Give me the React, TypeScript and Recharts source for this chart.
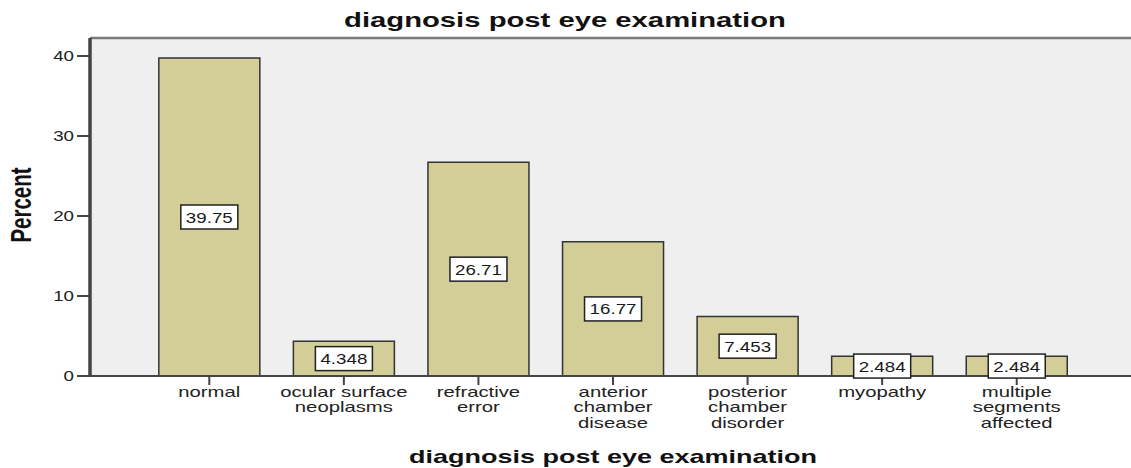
import React from 'react';
import {
  BarChart,
  Bar,
  XAxis,
  YAxis,
  CartesianGrid,
  ReferenceLine,
  LabelList
} from 'recharts';

const categories = [
  'normal',
  'ocular surface neoplasms',
  'refractive error',
  'anterior chamber disease',
  'posterior chamber disorder',
  'myopathy',
  'multiple segments affected'
];

const tickLines = [
  ['normal'],
  ['ocular surface', 'neoplasms'],
  ['refractive', 'error'],
  ['anterior', 'chamber', 'disease'],
  ['posterior', 'chamber', 'disorder'],
  ['myopathy'],
  ['multiple', 'segments', 'affected']
];

const percents = [39.75, 4.348, 26.71, 16.77, 7.453, 2.484, 2.484];

const yTicks = [0, 10, 20, 30, 40];
const yMax = 42.25;

const data = categories.map((name, i) => ({
  name,
  percent: percents[i]
}));

const FONT = '"Liberation Sans", Arial, sans-serif';

const XTick = (props: any) => {
  const { x, y, index } = props;
  const lines = tickLines[index] || [];
  return (
    <g transform={`translate(${x},${y}) scale(1.45,1)`}>
      <text textAnchor="middle" fontSize={14} fill="#222" fontFamily={FONT}>
        {lines.map((l: string, i: number) => (
          <tspan key={i} x={0} y={12 + i * 15.5}>
            {l}
          </tspan>
        ))}
      </text>
    </g>
  );
};

const YTick = (props: any) => {
  const { x, y, payload } = props;
  return (
    <g transform={`translate(${x},${y}) scale(1.25,1)`}>
      <text textAnchor="end" dy={5} fontSize={15} fill="#222" fontFamily={FONT}>
        {payload.value}
      </text>
    </g>
  );
};

const ValueBox = (props: any) => {
  const { x, y, width, height, value } = props;
  const cx = x + width / 2;
  const cy = y + height / 2;
  const label = String(value);
  const w = 10 + label.length * 9.4;
  const h = 24;
  return (
    <g>
      <rect
        x={cx - w / 2}
        y={cy - h / 2}
        width={w}
        height={h}
        fill="#fff"
        stroke="#222"
        strokeWidth={1.5}
      />
      <g transform={`translate(${cx},${cy + 5.5}) scale(1.25,1)`}>
        <text textAnchor="middle" fontSize={15} fill="#1a1a1a" fontFamily={FONT}>
          {label}
        </text>
      </g>
    </g>
  );
};

export default function App() {
  return (
    <div
      style={{
        position: 'absolute',
        left: 0,
        top: 0,
        width: 1131,
        height: 468,
        overflow: 'hidden',
        background: '#fff',
        fontFamily: FONT
      }}
    >
      <svg
        width={1131}
        height={468}
        style={{ position: 'absolute', left: 0, top: 0 }}
      >
        <g transform="translate(565,27) scale(1.5,1)">
          <text
            textAnchor="middle"
            fontSize={19.5}
            fontWeight="bold"
            fill="#111"
            fontFamily={FONT}
          >
            diagnosis post eye examination
          </text>
        </g>
        <g transform="translate(613,463) scale(1.5,1)">
          <text
            textAnchor="middle"
            fontSize={18}
            fontWeight="bold"
            fill="#111"
            fontFamily={FONT}
          >
            diagnosis post eye examination
          </text>
        </g>
        <g transform="translate(31,205) rotate(-90) scale(1,1.4)">
          <text
            textAnchor="middle"
            fontSize={20.5}
            fontWeight="bold"
            fill="#111"
            fontFamily={FONT}
          >
            Percent
          </text>
        </g>
      </svg>
      <div style={{ position: 'absolute', left: 0, top: 0 }}>
        <BarChart
          width={1140}
          height={468}
          data={data}
          margin={{ top: 38, right: 4, bottom: 0, left: 0 }}
          barCategoryGap="12.5%"
        >
          <CartesianGrid
            fill="#efefef"
            horizontal={false}
            vertical={false}
            stroke="none"
          />
          <ReferenceLine y={yMax} stroke="#7a7a7a" strokeWidth={2.5} />
          <XAxis
            dataKey="name"
            height={92}
            padding={{ left: 52, right: 52 }}
            axisLine={{ stroke: '#444', strokeWidth: 2 }}
            tickLine={{ stroke: '#444', strokeWidth: 2 }}
            tickSize={9}
            tickMargin={0}
            tick={<XTick />}
            interval={0}
          />
          <YAxis
            width={90}
            domain={[0, yMax]}
            ticks={yTicks}
            axisLine={{ stroke: '#444', strokeWidth: 3.5 }}
            tickLine={{ stroke: '#444', strokeWidth: 2 }}
            tickSize={13}
            tickMargin={3}
            tick={<YTick />}
          />
          <Bar
            dataKey="percent"
            fill="#d3ce97"
            stroke="#333"
            strokeWidth={1.5}
            isAnimationActive={false}
          >
            <LabelList dataKey="percent" content={<ValueBox />} />
          </Bar>
        </BarChart>
      </div>
    </div>
  );
}
